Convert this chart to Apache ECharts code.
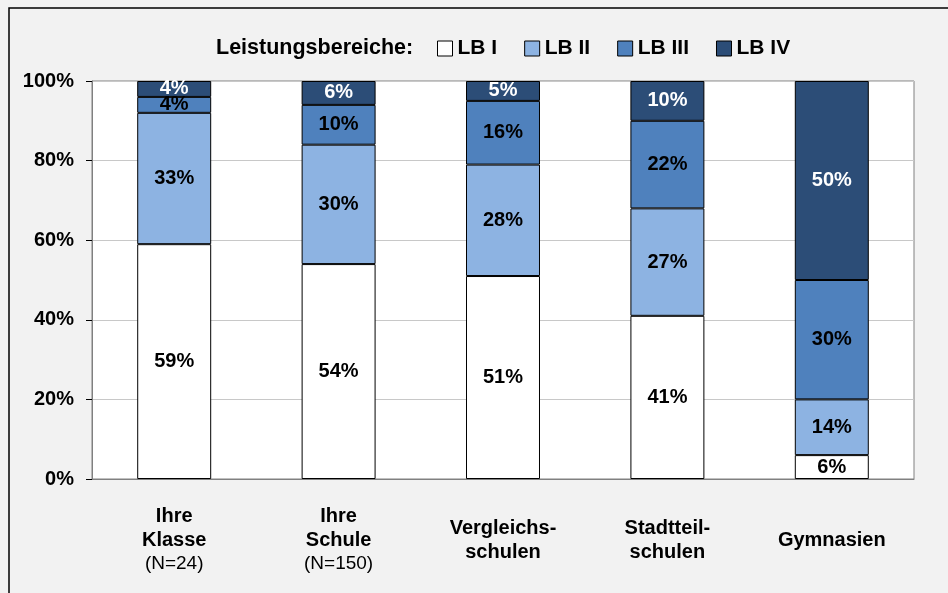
<!DOCTYPE html>
<html><head><meta charset="utf-8">
<script src="https://cdn.jsdelivr.net/npm/echarts@6/dist/echarts.min.js"></script>
<style>html,body{margin:0;padding:0;background:#f2f2f2;}#c{width:948px;height:593px;}</style>
</head><body><div id="c"></div>
<script>
const categories = ['Ihre\nKlasse\n(N=24)', 'Ihre\nSchule\n(N=150)', 'Vergleichs-\nschulen', 'Stadtteil-\nschulen', 'Gymnasien'];
const seriesNames = ['LB I', 'LB II', 'LB III', 'LB IV'];
const lb1 = [59, 54, 51, 41, 6];
const lb2 = [33, 30, 28, 27, 14];
const lb3 = [4, 10, 16, 22, 30];
const lb4 = [4, 6, 5, 10, 50];
const yTicks = [0, 20, 40, 60, 80, 100];

const colors = ['#ffffff', '#8db3e2', '#4f81bd', '#2c4d77'];
const labelColors = ['#000', '#000', '#000', '#fff'];
const data = [lb1, lb2, lb3, lb4];
const font = 'Liberation Sans, Arial, sans-serif';

const chart = echarts.init(document.getElementById('c'));
chart.setOption({
  backgroundColor: '#f2f2f2',
  animation: false,
  graphic: [
    {type: 'rect', shape: {x: 9, y: 8, width: 960, height: 620}, style: {fill: 'none', stroke: '#000', lineWidth: 1.5}, z: 0},
    {type: 'text', left: 216, top: 37, style: {text: 'Leistungsbereiche:', font: 'bold 21.5px ' + font, fill: '#000'}}
  ],
  legend: {
    left: 437, top: 38, padding: 0, itemWidth: 15, itemHeight: 15, itemGap: 27, icon: 'rect',
    textStyle: {fontFamily: font, fontWeight: 'bold', fontSize: 21, color: '#000'},
    data: seriesNames.map((n) => ({name: n, itemStyle: {borderColor: '#000', borderWidth: 1}}))
  },
  grid: {left: 92, right: 34, top: 81, bottom: 114, show: true, backgroundColor: '#ffffff', borderColor: '#808080', borderWidth: 1},
  xAxis: {
    type: 'category', data: categories,
    axisLine: {show: true, lineStyle: {color: '#808080'}},
    axisTick: {show: false},
    axisLabel: {
      interval: 0, margin: 61, verticalAlign: 'middle', lineHeight: 24,
      formatter: (v) => {
        const parts = v.split('\n');
        return parts.map(p => p.startsWith('(') ? '{n|' + p + '}' : '{b|' + p + '}').join('\n');
      },
      rich: {
        b: {fontFamily: font, fontWeight: 'bold', fontSize: 20, color: '#000', lineHeight: 24},
        n: {fontFamily: font, fontSize: 19, color: '#000', lineHeight: 23}
      }
    }
  },
  yAxis: {
    type: 'value', min: 0, max: 100, interval: 20,
    axisLine: {show: true, lineStyle: {color: '#808080'}},
    axisTick: {show: true, length: 6, lineStyle: {color: '#000'}},
    splitLine: {lineStyle: {color: '#c8c8c8'}},
    axisLabel: {formatter: (v) => yTicks.includes(v) ? v + '%' : '', fontFamily: font, fontWeight: 'bold', fontSize: 20, color: '#000', margin: 18}
  },
  series: data.map((d, i) => ({
    name: seriesNames[i], type: 'bar', stack: 'all', barWidth: '45%',
    data: d,
    itemStyle: {color: colors[i], borderColor: '#000', borderWidth: 1},
    label: {show: true, position: 'inside', formatter: '{c}%', fontFamily: font, fontWeight: 'bold', fontSize: 20, color: labelColors[i]}
  }))
});
</script></body></html>
